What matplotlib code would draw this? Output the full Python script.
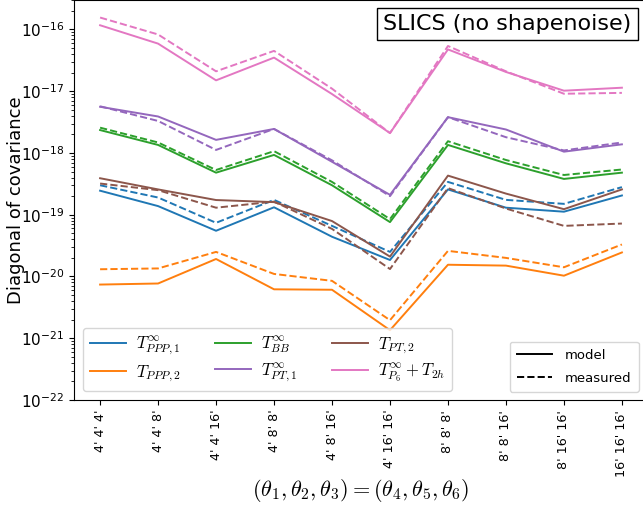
import numpy as np
import matplotlib
matplotlib.use("Agg")
import matplotlib.pyplot as plt
from matplotlib.lines import Line2D

plt.rcParams['mathtext.fontset'] = 'cm'

# angle triplets on the x axis
triplets = ["4' 4' 4'", "4' 4' 8'", "4' 4' 16'", "4' 8' 8'", "4' 8' 16'",
            "4' 16' 16'", "8' 8' 8'", "8' 8' 16'", "8' 16' 16'", "16' 16' 16'"]

# model values (solid)
ppp1_model = [2.45e-19, 1.38e-19, 5.5e-20, 1.32e-19, 4.4e-20, 1.85e-20, 2.57e-19, 1.3e-19, 1.12e-19, 2.05e-19]
ppp2_model = [7.4e-21, 7.7e-21, 1.92e-20, 6.2e-21, 6.1e-21, 1.35e-21, 1.55e-20, 1.5e-20, 1.03e-20, 2.45e-20]
bb_model = [2.35e-18, 1.35e-18, 4.8e-19, 9.3e-19, 3.0e-19, 7.6e-20, 1.35e-18, 6.8e-19, 3.8e-19, 4.8e-19]
pt1_model = [5.6e-18, 3.9e-18, 1.63e-18, 2.45e-18, 7.2e-19, 2.1e-19, 3.8e-18, 2.4e-18, 1.05e-18, 1.38e-18]
pt2_model = [3.9e-19, 2.57e-19, 1.73e-19, 1.6e-19, 7.9e-20, 2.1e-20, 4.3e-19, 2.2e-19, 1.23e-19, 2.57e-19]
p6_model = [1.17e-16, 5.9e-17, 1.5e-17, 3.5e-17, 9.0e-18, 2.1e-18, 4.75e-17, 2.05e-17, 1.02e-17, 1.14e-17]

# measured values (dashed)
ppp1_meas = [3.0e-19, 1.9e-19, 7.4e-20, 1.74e-19, 6.6e-20, 2.5e-20, 3.4e-19, 1.74e-19, 1.5e-19, 2.8e-19]
ppp2_meas = [1.31e-20, 1.35e-20, 2.5e-20, 1.1e-20, 8.5e-21, 1.96e-21, 2.6e-20, 2.0e-20, 1.41e-20, 3.3e-20]
bb_meas = [2.57e-18, 1.48e-18, 5.3e-19, 1.07e-18, 3.4e-19, 8.5e-20, 1.55e-18, 7.7e-19, 4.4e-19, 5.4e-19]
pt1_meas = [5.7e-18, 3.3e-18, 1.12e-18, 2.45e-18, 7.6e-19, 2.0e-19, 3.8e-18, 1.8e-18, 1.1e-18, 1.48e-18]
pt2_meas = [3.2e-19, 2.5e-19, 1.3e-19, 1.63e-19, 5.9e-20, 1.32e-20, 2.7e-19, 1.26e-19, 6.6e-20, 7.2e-20]
p6_meas = [1.56e-16, 8.3e-17, 2.1e-17, 4.5e-17, 1.1e-17, 2.1e-18, 5.4e-17, 2.1e-17, 9.1e-18, 9.4e-18]

labels = [r'$T^{\infty}_{PPP,1}$', r'$T_{PPP,2}$', r'$T^{\infty}_{BB}$',
          r'$T^{\infty}_{PT,1}$', r'$T_{PT,2}$', r'$T^{\infty}_{P_6}+T_{2h}$']
colors = ['C0', 'C1', 'C2', 'C4', 'C5', 'C6']
models = [ppp1_model, ppp2_model, bb_model, pt1_model, pt2_model, p6_model]
measured = [ppp1_meas, ppp2_meas, bb_meas, pt1_meas, pt2_meas, p6_meas]

fig = plt.figure(figsize=(6.43, 5.14), dpi=100)
ax = fig.add_axes([74 / 643, 114 / 514, 574 / 643, 400 / 514])

x = np.arange(len(triplets))
handles = []
for lab, c, m, d in zip(labels, colors, models, measured):
    h, = ax.plot(x, m, color=c, ls='-', lw=1.4, label=lab)
    ax.plot(x, d, color=c, ls='--', lw=1.4)
    handles.append(h)

ax.set_yscale('log')
ax.set_ylim(1e-22, 3e-16)
ax.set_xlim(-0.45, 9.45)
ax.set_xticks(x)
ax.set_xticklabels(triplets, rotation=90, fontsize=9.2)
ax.tick_params(axis='y', labelsize=11)
ax.set_ylabel('Diagonal of covariance', fontsize=13)
ax.yaxis.set_label_coords(-0.086, 0.5)
ax.set_xlabel(r'$(\theta_1,\theta_2,\theta_3)=(\theta_4,\theta_5,\theta_6)$', fontsize=16, va='center')
ax.xaxis.set_label_coords(0.5, -0.225)

leg1 = ax.legend(handles=handles, ncol=3, loc='lower left', fontsize=12,
                 handlelength=2.15, handletextpad=0.6, columnspacing=2.1,
                 labelspacing=0.35, bbox_to_anchor=(0.0157, 0.0225), borderaxespad=0.0)
ax.add_artist(leg1)
style_handles = [Line2D([], [], color='k', ls='-', lw=1.4),
                 Line2D([], [], color='k', ls='--', lw=1.4)]
ax.legend(style_handles, ['model', 'measured'], loc='lower right', fontsize=9.5,
          handlelength=2.65, handletextpad=1.0, labelspacing=0.75, borderpad=0.55,
          bbox_to_anchor=(0.984, 0.02), borderaxespad=0.0)

ax.text(0.971, 0.965, 'SLICS (no shapenoise)', transform=ax.transAxes, ha='right', va='top',
        fontsize=16, bbox=dict(facecolor='white', edgecolor='black', boxstyle='square,pad=0.28'))

fig.savefig('out.png', dpi=100)
